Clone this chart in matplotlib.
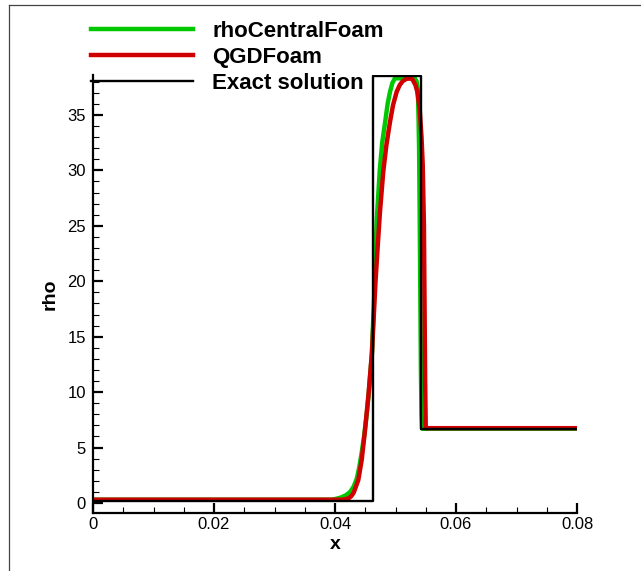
import matplotlib.pyplot as plt
from matplotlib.lines import Line2D
from matplotlib.ticker import MultipleLocator

plt.rcParams['font.family'] = ['Liberation Sans', 'DejaVu Sans']

# =====================================================
# DATA
# =====================================================
# rhoCentralFoam
x_central = [0.0, 0.0395, 0.0402, 0.0410, 0.0418, 0.0425, 0.0431, 0.0436, 0.0440,
             0.0444, 0.0448, 0.0452, 0.0456, 0.0461, 0.0465, 0.0469, 0.0474,
             0.0478, 0.0483, 0.0487, 0.0491, 0.0495, 0.0499, 0.0532, 0.0535,
             0.0537, 0.0538, 0.0539, 0.0540, 0.0541, 0.0542, 0.0543, 0.0544, 0.08]
rho_central = [0.3, 0.3, 0.38, 0.5, 0.7, 1.0, 1.5, 2.2, 3.2,
               4.5, 6.0, 7.8, 10.0, 13.5, 19.0, 25.5, 30.0,
               32.5, 34.4, 36.0, 37.1, 37.9, 38.3, 38.3, 38.0,
               37.2, 35.0, 32.0, 26.0, 19.0, 12.0, 8.0, 6.7, 6.7]

# QGDFoam
x_qgd = [0.0, 0.0412, 0.0418, 0.0423, 0.0427, 0.0431, 0.04385, 0.04441, 0.04496,
         0.0455, 0.0461, 0.0467, 0.0471, 0.04744, 0.04798, 0.0485, 0.0491,
         0.0496, 0.0502, 0.0507, 0.0512, 0.0518, 0.0524, 0.0528, 0.0533,
         0.0536, 0.0540, 0.0543, 0.0545, 0.0547, 0.0548, 0.0549, 0.0550, 0.08]
rho_qgd = [0.3, 0.3, 0.35, 0.45, 0.62, 0.95, 2.07, 3.87, 6.56,
           9.56, 13.5, 20.0, 23.5, 26.3, 29.9, 32.3, 34.4,
           35.9, 37.1, 37.7, 38.05, 38.25, 38.3, 38.2, 37.7,
           37.1, 35.5, 33.0, 30.5, 25.0, 18.0, 11.0, 6.75, 6.75]

# Exact solution
x_exact = [0.0, 0.0463, 0.0463, 0.0542, 0.0542, 0.08]
rho_exact = [0.2, 0.2, 38.5, 38.5, 6.65, 6.65]

# =====================================================
# PLOT
# =====================================================
fig = plt.figure(figsize=(6.41, 5.71), dpi=100)
ax = fig.add_axes([93 / 641, 1 - 513 / 571, (577 - 93) / 641, (513 - 75) / 571])

ax.plot(x_central, rho_central, color='#00c800', lw=3.2, label='rhoCentralFoam',
        solid_joinstyle='round')
ax.plot(x_qgd, rho_qgd, color='#d00000', lw=3.2, label='QGDFoam',
        solid_joinstyle='round')
ax.plot(x_exact, rho_exact, color='black', lw=1.7, label='Exact solution')

ax.set_xlim(0, 0.08)
ax.set_ylim(-0.9, 38.6)

ax.spines['top'].set_visible(False)
ax.spines['right'].set_visible(False)
ax.spines['left'].set_linewidth(1.6)
ax.spines['bottom'].set_linewidth(1.6)

ax.xaxis.set_minor_locator(MultipleLocator(0.005))
ax.yaxis.set_major_locator(MultipleLocator(5))
ax.yaxis.set_minor_locator(MultipleLocator(1))
ax.set_xticks([0, 0.02, 0.04, 0.06, 0.08])
ax.set_xticklabels(['0', '0.02', '0.04', '0.06', '0.08'])

ax.tick_params(which='major', direction='in', length=7, width=1.6, labelsize=12)
ax.tick_params(which='minor', direction='in', length=4, width=0.8)
ax.tick_params(axis='y', which='major', pad=5)
ax.tick_params(axis='x', which='major', pad=3)

ax.set_xlabel('x', fontsize=14, fontweight='bold', labelpad=3)
ax.set_ylabel('rho', fontsize=14, fontweight='bold', labelpad=6)

ax.legend(loc='upper left', bbox_to_anchor=(91 / 641, 1 - 21 / 571),
          bbox_transform=fig.transFigure, frameon=False,
          prop={'weight': 'bold', 'size': 16}, handlelength=4.6,
          handletextpad=0.85, labelspacing=0.22, borderpad=0, borderaxespad=0)

# frame around the picture (left and top edges only)
fig.add_artist(Line2D([9 / 641, 9 / 641], [0, 1 - 5 / 571], color='#444444', lw=0.9))
fig.add_artist(Line2D([9 / 641, 1], [1 - 5 / 571, 1 - 5 / 571], color='#444444', lw=0.9))

fig.savefig('out.png', dpi=100)
